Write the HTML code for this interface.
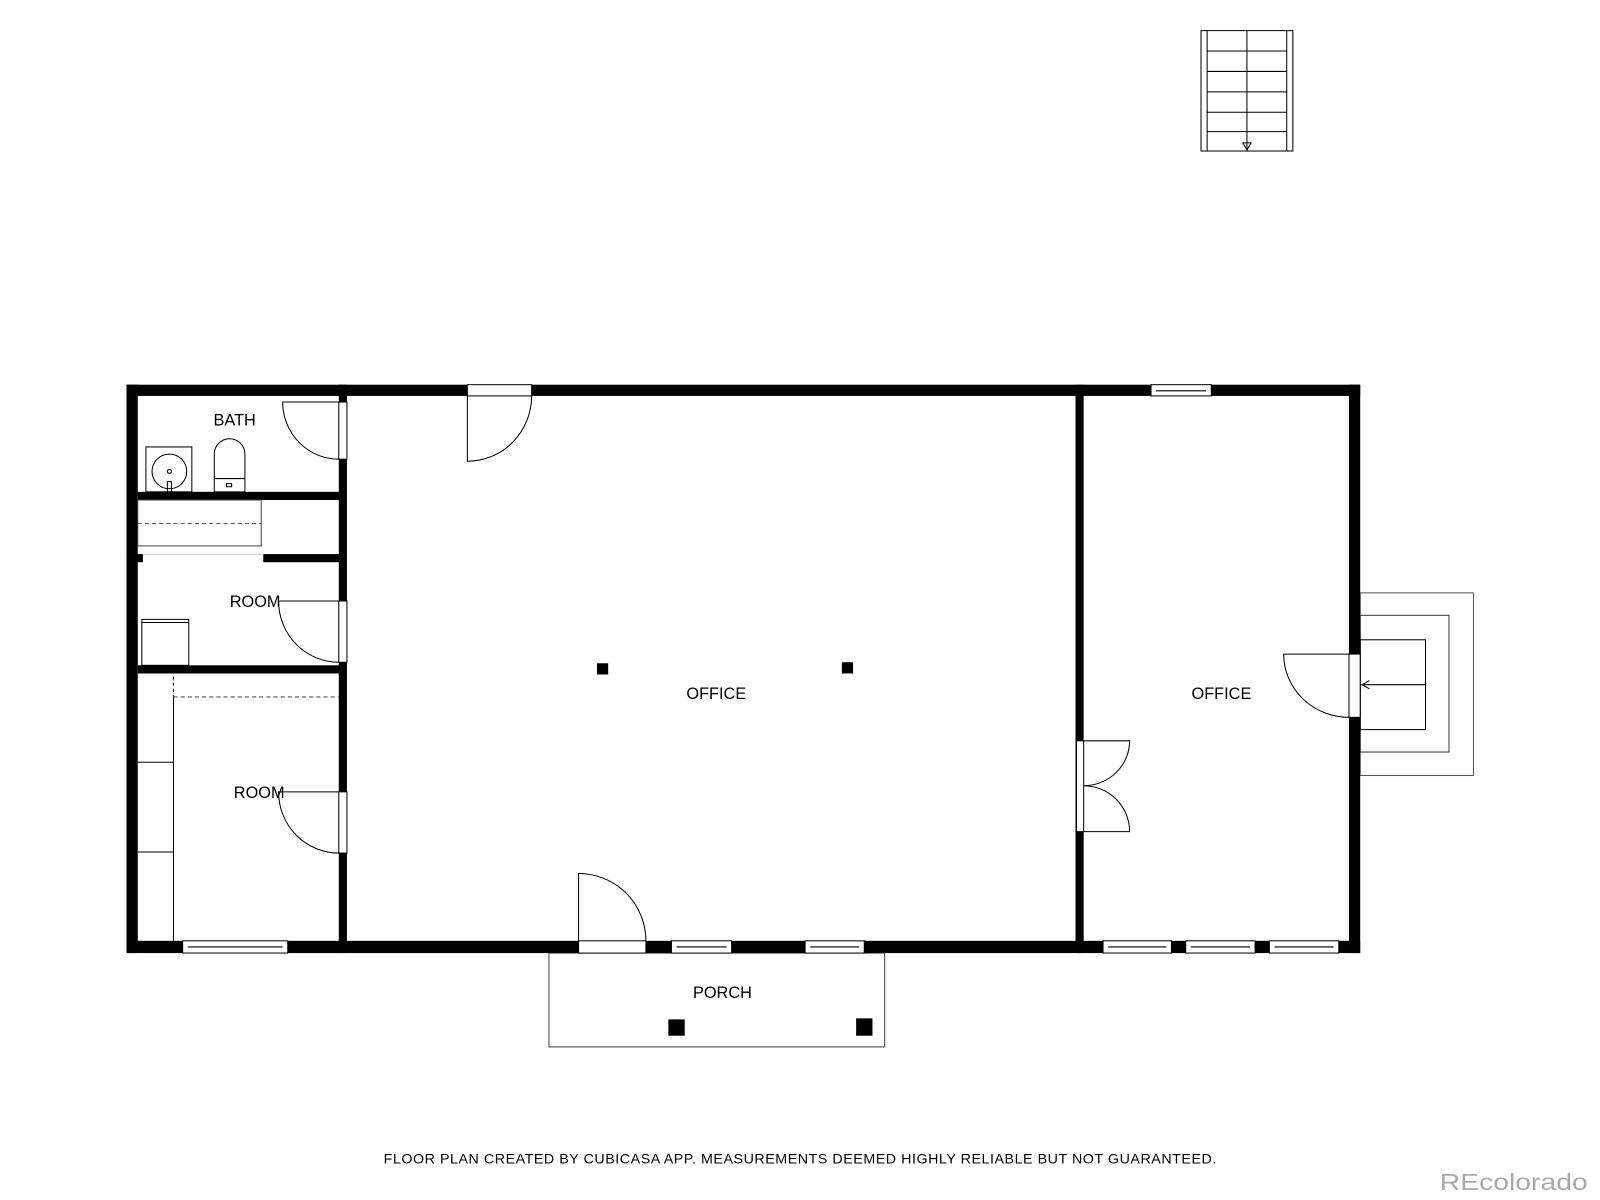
<!DOCTYPE html>
<html><head><meta charset="utf-8"><style>
html,body{margin:0;padding:0;background:#fff;width:1600px;height:1200px;overflow:hidden}
svg{display:block}
text{font-family:"Liberation Sans",sans-serif;fill:#000}
</style></head><body>
<svg width="1600" height="1200" viewBox="0 0 1568 1176" xmlns="http://www.w3.org/2000/svg">
<g fill="none" stroke="#000" stroke-width="1">
<rect x="1177" y="30" width="90" height="118"/>
<line x1="1183" y1="30" x2="1183" y2="148"/><line x1="1261" y1="30" x2="1261" y2="148"/>
<line x1="1222" y1="30" x2="1222" y2="148"/>
<line x1="1183" y1="50" x2="1261" y2="50"/><line x1="1183" y1="70" x2="1261" y2="70"/>
<line x1="1183" y1="90" x2="1261" y2="90"/><line x1="1183" y1="110" x2="1261" y2="110"/>
<line x1="1183" y1="129" x2="1261" y2="129"/>
<path d="M1218 140 L1222 147 L1226 140 Z"/>
<rect x="1333" y="581" width="111" height="179" stroke="#555"/>
<rect x="1333" y="603" width="87" height="134" stroke="#333"/>
<rect x="1333" y="627" width="64" height="88"/>
<line x1="1334" y1="671" x2="1397" y2="671"/>
<path d="M1342 667 L1335 671 L1342 675"/>
<rect x="538" y="934" width="329" height="92" stroke="#444"/>
</g>
<g fill="#000">
<rect x="655" y="999" width="16" height="16"/><rect x="839" y="998" width="16" height="17"/>
<rect x="585" y="650" width="11" height="11"/><rect x="825" y="649" width="11" height="11"/>
<rect x="124" y="377" width="1209" height="11"/>
<rect x="124" y="922" width="1209" height="12"/>
<rect x="124" y="377" width="11" height="557"/>
<rect x="1322" y="377" width="11" height="557"/>
<rect x="332" y="377" width="8" height="557"/>
<rect x="1054" y="377" width="8" height="557"/>
<rect x="135" y="482" width="200" height="8"/>
<rect x="124" y="543" width="16" height="8"/>
<rect x="258" y="543" width="76" height="8"/>
<rect x="135" y="652" width="200" height="8"/>
</g>
<g fill="#fff" stroke="#000" stroke-width="1">
<rect x="332" y="394" width="8" height="56"/>
<rect x="332" y="589" width="8" height="60"/>
<rect x="332" y="776" width="8" height="60"/>
<rect x="458" y="377" width="63" height="11"/>
<rect x="567" y="922" width="66" height="12"/>
<rect x="1322" y="641" width="11" height="62"/>
<rect x="1055" y="726" width="7" height="89"/>
<rect x="179" y="922" width="103" height="12"/><line x1="184" y1="928" x2="277" y2="928"/>
<rect x="658" y="922" width="59" height="12"/><line x1="663" y1="928" x2="712" y2="928"/>
<rect x="789" y="922" width="58" height="12"/><line x1="794" y1="928" x2="842" y2="928"/>
<rect x="1081" y="922" width="67" height="12"/><line x1="1086" y1="928" x2="1143" y2="928"/>
<rect x="1162" y="922" width="68" height="12"/><line x1="1167" y1="928" x2="1225" y2="928"/>
<rect x="1244" y="922" width="68" height="12"/><line x1="1249" y1="928" x2="1307" y2="928"/>
<rect x="1128" y="377" width="59" height="11"/><line x1="1133" y1="383" x2="1182" y2="383"/>
</g>
<g fill="none" stroke="#000" stroke-width="1">
<path d="M332 394 L277 394 A55 56 0 0 0 332 450"/>
<path d="M332 589 L273 589 A59 60 0 0 0 332 649"/>
<path d="M332 776 L273 776 A59 60 0 0 0 332 836"/>
<path d="M458 388 L458 452 A63 64 0 0 0 521 388"/>
<path d="M567 922 L567 856 A66 66 0 0 1 633 922"/>
<path d="M1322 641 L1258 641 A64 62 0 0 0 1322 703"/>
<path d="M1062 726 L1107 726 A45 44 0 0 1 1062 770 A45 45 0 0 1 1107 815 L1062 815"/>
<rect x="143" y="438" width="45" height="44"/>
<circle cx="166" cy="462" r="17"/>
<circle cx="166" cy="462" r="2"/>
<rect x="164" y="472" width="4" height="10"/>
<path d="M210 482 L210 445 A15 15 0 0 1 240 445 L240 482 Z"/>
<line x1="210" y1="469" x2="240" y2="469"/>
<rect x="222" y="474" width="5" height="3"/>
<rect x="135" y="490" width="121" height="45" stroke="#444"/>
<line x1="135" y1="513" x2="256" y2="513" stroke-dasharray="4,3" stroke="#555"/>
<line x1="140" y1="543" x2="258" y2="543" stroke="#ccc"/>
<rect x="139" y="607" width="46" height="45"/>
<line x1="139" y1="610" x2="185" y2="610"/>
<line x1="170" y1="660" x2="170" y2="922"/>
<line x1="170" y1="660" x2="170" y2="683" stroke-dasharray="3,3" stroke="#fff"/>
<line x1="135" y1="747" x2="170" y2="747"/>
<line x1="135" y1="835" x2="170" y2="835"/>
<line x1="170" y1="683" x2="332" y2="683" stroke-dasharray="4,3" stroke="#555"/>
</g>
<g font-size="16" text-anchor="middle">
<text x="230" y="417">BATH</text>
<text x="250" y="595">ROOM</text>
<text x="254" y="782">ROOM</text>
<text x="702" y="685">OFFICE</text>
<text x="1197" y="685">OFFICE</text>
<text x="708" y="978">PORCH</text>
</g>
<text x="376" y="1140" font-size="14" textLength="816" lengthAdjust="spacing">FLOOR PLAN CREATED BY CUBICASA APP. MEASUREMENTS DEEMED HIGHLY RELIABLE BUT NOT GUARANTEED.</text>
<text x="1411" y="1166" font-size="23" textLength="145" lengthAdjust="spacingAndGlyphs" style="fill:#aaa">REcolorado</text>
</svg>
</body></html>
